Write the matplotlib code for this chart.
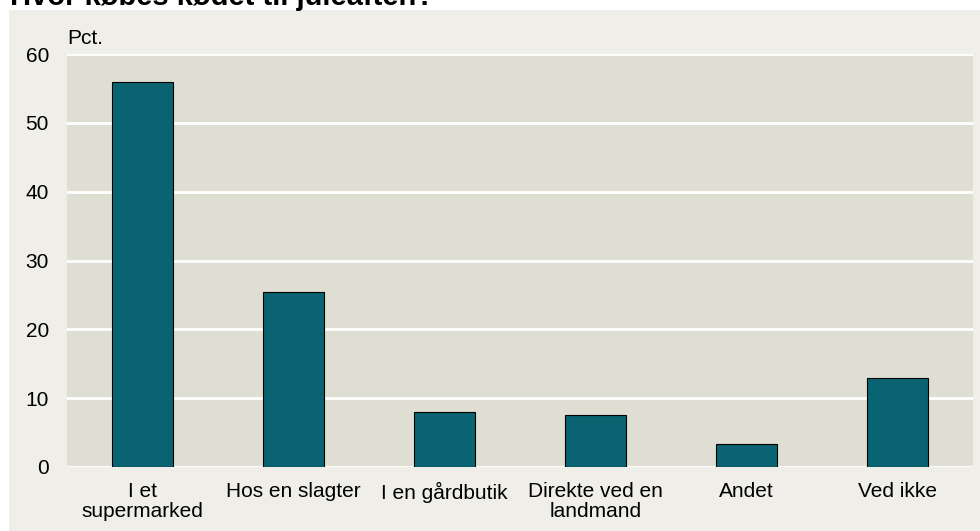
import matplotlib.pyplot as plt
from matplotlib.patches import Rectangle

categories = ['I et\nsupermarked', 'Hos en slagter', 'I en gårdbutik',
              'Direkte ved en\nlandmand', 'Andet', 'Ved ikke']
values = [56.0, 25.4, 8.0, 7.6, 3.4, 12.9]
yticks = [0, 10, 20, 30, 40, 50, 60]
title = 'Hvor købes kødet til juleaften?'

plt.rcParams['font.family'] = ['Liberation Sans', 'DejaVu Sans']

fig = plt.figure(figsize=(9.8, 5.31), dpi=100)
fig.patch.set_facecolor('white')

# beige panel behind the chart (title sits above it, mostly cut off)
fig.patches.append(Rectangle((9 / 980, 0), 1 - 9 / 980, 521 / 531,
                             transform=fig.transFigure, facecolor='#EFEEE8',
                             edgecolor='none', zorder=-10))
fig.text(10 / 980, 526 / 531, title, fontsize=21, fontweight='bold',
         ha='left', va='baseline', color='black')

ax = fig.add_axes([67 / 980, 64 / 531, 906 / 980, 413 / 531])
ax.set_facecolor('#DFDED3')

x = range(len(categories))
ax.bar(x, values, width=0.41, color='#0A6370', edgecolor='black',
       linewidth=0.8, zorder=3)

ax.set_xlim(-0.5, len(categories) - 0.5)
ax.set_ylim(0, 60)
ax.set_yticks(yticks)
ax.set_xticks(list(x))
ax.set_xticklabels(categories, fontsize=15, linespacing=1.05)
ax.tick_params(axis='both', length=0, labelsize=15)
ax.tick_params(axis='y', pad=13)
ax.tick_params(axis='x', pad=11)
ax.grid(axis='y', color='white', linewidth=2, zorder=1)
ax.set_axisbelow(True)
for s in ax.spines.values():
    s.set_visible(False)

ax.text(0, 1.015, 'Pct.', transform=ax.transAxes, fontsize=15,
        ha='left', va='bottom')

plt.savefig('out.png', dpi=100, facecolor=fig.get_facecolor())
